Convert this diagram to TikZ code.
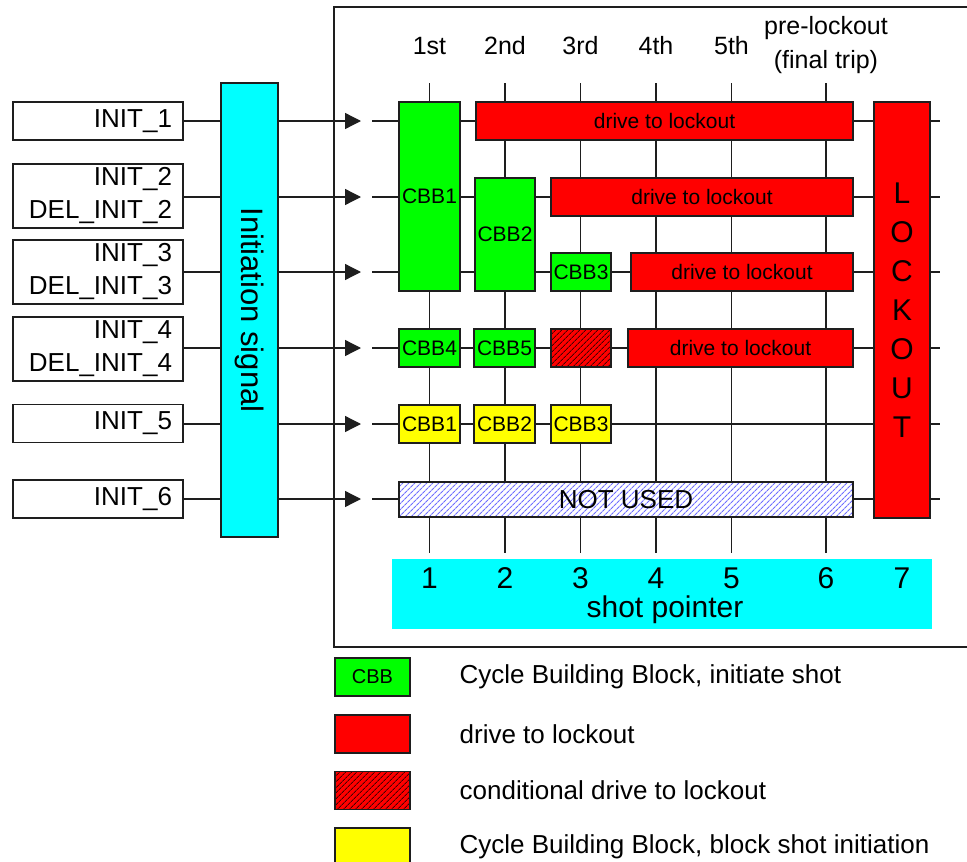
\documentclass[tikz,border=0pt]{standalone}
\usepackage{fontspec}
\setmainfont{Liberation Sans}
\usetikzlibrary{arrows.meta,patterns.meta}
\definecolor{cgreen}{RGB}{0,255,0}
\definecolor{cred}{RGB}{255,0,0}
\definecolor{cyellow}{RGB}{255,255,0}
\definecolor{ccyan}{RGB}{0,255,255}
\definecolor{cborder}{RGB}{30,30,30}
\definecolor{hatchred}{RGB}{70,0,0}
\definecolor{hatchblue}{RGB}{110,110,255}
\begin{document}
\begin{tikzpicture}[x=1pt,y=-1pt,line width=1.3pt,
  inbox/.style={draw=cborder,fill=white,minimum width=170pt,text width=148pt,align=right,inner xsep=11pt,inner ysep=0pt,font=\fontsize{26}{33}\selectfont},
  blk/.style={draw=cborder,inner sep=0pt,font=\fontsize{21}{25}\selectfont},
  gbox/.style={blk,fill=cgreen},
  rbox/.style={blk,fill=cred},
  ybox/.style={blk,fill=cyellow},
  hbox/.style={blk,preaction={fill=cred},pattern={Lines[angle=45,distance=4pt,line width=1pt]},pattern color=hatchred},
  nbox/.style={blk,preaction={fill=white},pattern={Lines[angle=45,distance=4pt,line width=1.1pt]},pattern color=hatchblue},
  hdr/.style={font=\fontsize{25}{34}\selectfont,align=center},
  num/.style={font=\fontsize{30}{34}\selectfont,inner sep=0pt},
  legtxt/.style={anchor=west,font=\fontsize{26}{30}\selectfont,inner sep=0pt},
  arr/.style={-{Triangle[length=16pt,width=16pt]}}
]
\useasboundingbox (0,0) rectangle (967,862);

% frame
\draw[cborder] (334,7) rectangle (980,647);

% input boxes
\node[inbox,minimum height=38pt] (in1) at (98,121) {INIT\_1};
\node[inbox,minimum height=64pt] (in2) at (98,196) {INIT\_2\\DEL\_INIT\_2};
\node[inbox,minimum height=64pt] (in3) at (98,272) {INIT\_3\\DEL\_INIT\_3};
\node[inbox,minimum height=64pt] (in4) at (98,349) {INIT\_4\\DEL\_INIT\_4};
\node[inbox,minimum height=38pt] (in5) at (98,423.5) {INIT\_5};
\node[inbox,minimum height=38pt] (in6) at (98,499) {INIT\_6};

% initiation signal
\node[draw=cborder,fill=ccyan,minimum width=57pt,minimum height=454pt,inner sep=0pt] (isig) at (249.5,310) {};
\node[rotate=-90,font=\fontsize{31}{34}\selectfont] (isigtxt) at (isig.center) {Initiation signal};

% row coordinates and lines
\foreach \r/\y in {1/121,2/197,3/272,4/348,5/424,6/499}{
  \coordinate (a\r) at (361,\y);
  \coordinate (gs\r) at (372,\y);
  \coordinate (ge\r) at (940,\y);
  \draw[cborder] (in\r.east |- a\r) -- (isig.west |- a\r);
  \draw[cborder,arr] (isig.east |- a\r) -- (a\r);
  \draw[cborder] (gs\r) -- (ge\r);
}

% column lines
\foreach \c/\x in {1/429.5,2/505,3/580.5,4/656,5/731.5,6/826}{
  \coordinate (ct\c) at (\x,83);
  \coordinate (cb\c) at (\x,553);
  \draw[cborder] (ct\c) -- (cb\c);
}

% headers
\node[hdr] (h1) at (429.5,46) {1st};
\node[hdr] (h2) at (505,46) {2nd};
\node[hdr] (h3) at (580.5,46) {3rd};
\node[hdr] (h4) at (656,46) {4th};
\node[hdr] (h5) at (731.5,46) {5th};
\node[hdr] (h6) at (826,45) {pre-lockout\\(final trip)};

% row 1-3
\node[gbox,minimum width=61pt,minimum height=189pt] (cbb1) at (429.5,196.5) {CBB1};
\node[rbox,minimum width=377pt,minimum height=38pt] (d1) at (664.5,121) {drive to lockout};
\node[gbox,minimum width=60pt,minimum height=113pt] (cbb2) at (505,234.5) {CBB2};
\node[rbox,minimum width=302pt,minimum height=38pt] (d2) at (702,197) {drive to lockout};
\node[gbox,minimum width=60pt,minimum height=38pt] (cbb3) at (581,272) {CBB3};
\node[rbox,minimum width=222pt,minimum height=38pt] (d3) at (742,272) {drive to lockout};
% row 4
\node[gbox,minimum width=61pt,minimum height=38pt] (cbb4) at (429.5,348) {CBB4};
\node[gbox,minimum width=61pt,minimum height=38pt] (cbb5) at (504.5,348) {CBB5};
\node[hbox,minimum width=60pt,minimum height=38pt] (cond4) at (581,348) {};
\node[rbox,minimum width=225pt,minimum height=38pt] (d4) at (740.5,348) {drive to lockout};
% row 5
\node[ybox,minimum width=61pt,minimum height=38pt] (y1) at (429.5,424) {CBB1};
\node[ybox,minimum width=61pt,minimum height=38pt] (y2) at (504.5,424) {CBB2};
\node[ybox,minimum width=60pt,minimum height=38pt] (y3) at (581,424) {CBB3};
% row 6
\node[nbox,minimum width=454pt,minimum height=35pt,font=\fontsize{26}{30}\selectfont] (nu) at (626,499.5) {NOT USED};
% lockout
\node[rbox,minimum width=56pt,minimum height=416pt,align=center,font=\fontsize{30}{39}\selectfont] (lock) at (902,310) {L\\O\\C\\K\\O\\U\\T};

% shot pointer
\node[fill=ccyan,minimum width=540pt,minimum height=70pt,inner sep=0pt] (sp) at (662,593.5) {};
\foreach \c/\x in {1/429.5,2/505,3/580.5,4/656,5/731.5,6/826,7/902}{
  \node[num] (n\c) at (\x,578) {\c};
}
\node[num] (sptxt) at (665,610) {shot pointer};

% legend
\node[gbox,minimum width=75pt,minimum height=38pt,font=\fontsize{20}{24}\selectfont] (lg1) at (372.5,677) {CBB};
\node[rbox,minimum width=75pt,minimum height=38pt] (lg2) at (372.5,734) {};
\node[hbox,minimum width=75pt,minimum height=38pt] (lg3) at (372.5,790.5) {};
\node[ybox,minimum width=75pt,minimum height=38pt] (lg4) at (372.5,847) {};
\node[legtxt] (lt1) at (459,677) {Cycle Building Block, initiate shot};
\node[legtxt] (lt2) at (459,734) {drive to lockout};
\node[legtxt] (lt3) at (459,790.5) {conditional drive to lockout};
\node[legtxt] (lt4) at (459,847) {Cycle Building Block, block shot initiation};
\end{tikzpicture}
\end{document}
